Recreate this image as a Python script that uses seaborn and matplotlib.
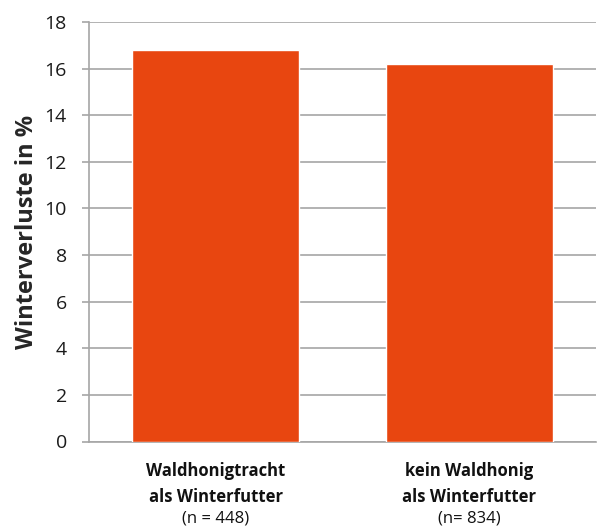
import matplotlib
matplotlib.use("Agg")
import matplotlib.pyplot as plt
import seaborn as sns
import pandas as pd

group_line1 = ["Waldhonigtracht", "kein Waldhonig"]
group_line2 = ["als Winterfutter", "als Winterfutter"]
sample_sizes = ["(n = 448)", "(n= 834)"]
losses = [16.8, 16.2]
yticks = [0, 2, 4, 6, 8, 10, 12, 14, 16, 18]

sns.set_theme(style="white")
plt.rcParams["font.family"] = ["Open Sans", "DejaVu Sans"]

groups = [f"{a} {b}" for a, b in zip(group_line1, group_line2)]
df = pd.DataFrame({"Gruppe": groups, "Verlust": losses})

fig = plt.figure(figsize=(6.01, 5.29), dpi=100)
ax = fig.add_axes([89 / 601, 87.5 / 529, 507 / 601, 419.5 / 529])

grid_col = "#A6A6A6"
sns.barplot(data=df, x="Gruppe", y="Verlust", color="#E84610", width=0.66,
            saturation=1, ax=ax, zorder=3)

ax.set_ylim(0, 18)
ax.set_xlim(-0.5, 1.5)
ax.set_yticks(yticks)
ax.set_yticklabels([str(v) for v in yticks], fontsize=14, color="#1a1a1a")
ax.yaxis.grid(True, color=grid_col, linewidth=1.2, zorder=0)
ax.set_axisbelow(True)

for side in ["top", "right"]:
    ax.spines[side].set_visible(False)
for side in ["left", "bottom"]:
    ax.spines[side].set_color(grid_col)
    ax.spines[side].set_linewidth(1.2)

ax.tick_params(axis="y", left=True, length=5, width=1.2, color=grid_col, pad=11)
ax.tick_params(axis="x", bottom=False, labelbottom=False)
ax.set_xlabel("")
ax.set_ylabel("Winterverluste in %", fontsize=17, fontweight="bold", labelpad=4)

xtrans = ax.get_xaxis_transform()
for i in range(len(groups)):
    ax.text(i, -0.082, group_line1[i], transform=xtrans, ha="center", va="baseline",
            fontsize=12, fontweight="bold", color="#111111")
    ax.text(i, -0.144, group_line2[i], transform=xtrans, ha="center", va="baseline",
            fontsize=12, fontweight="bold", color="#111111")
    ax.text(i, -0.193, sample_sizes[i], transform=xtrans, ha="center", va="baseline",
            fontsize=12, color="#111111")

fig.savefig("out.png", dpi=100)
